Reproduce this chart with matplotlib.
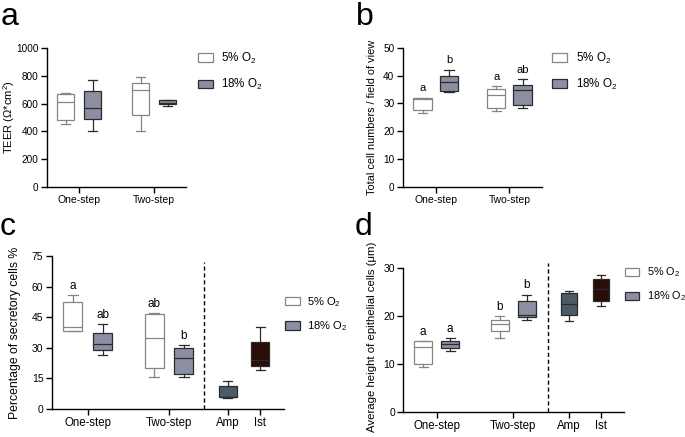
import matplotlib
matplotlib.use("Agg")
import matplotlib.pyplot as plt
from matplotlib.patches import Patch

plt.rcParams["font.family"] = ["Liberation Sans", "DejaVu Sans"]
plt.rcParams["mathtext.fontset"] = "custom"
plt.rcParams["mathtext.rm"] = "Liberation Sans"
plt.rcParams["mathtext.it"] = "Liberation Sans"

# box values: (min, q1, median, q3, max)
groups = ["One-step", "Two-step"]
tissues = ["Amp", "Ist"]
legend_labels = ["5% O$_2$", "18% O$_2$"]

teer_5 = [(456, 484, 609, 672, 677), (403, 516, 695, 748, 791)]
teer_18 = [(403, 489, 571, 688, 772), (580, 595, 604, 623, 628)]

cells_5 = [(26.4, 27.8, 31.6, 31.9, 32.1), (27.1, 28.5, 33.2, 35.3, 36.2)]
cells_18 = [(34.1, 34.3, 37.6, 39.7, 42.2), (28.5, 29.4, 35.0, 36.7, 38.8)]
cells_letters_5 = ["a", "a"]
cells_letters_18 = ["b", "ab"]

secr_5 = [(38.1, 38.2, 40.0, 52.3, 56.0), (15.7, 19.9, 35.0, 46.6, 46.9)]
secr_18 = [(26.3, 28.8, 31.7, 37.3, 41.5), (15.7, 17.3, 24.8, 29.9, 31.4)]
secr_tissue = [(5.4, 5.9, 6.0, 11.3, 13.9), (19.1, 21.2, 24.0, 32.7, 40.4)]
secr_letters_5 = ["a", "ab"]
secr_letters_18 = ["ab", "b"]

height_5 = [(9.3, 10.0, 13.4, 14.7, 14.7), (15.3, 16.8, 18.2, 19.2, 19.9)]
height_18 = [(12.6, 13.2, 14.2, 14.8, 15.3), (19.1, 19.7, 20.1, 23.1, 24.4)]
height_tissue = [(18.9, 20.1, 22.4, 24.7, 25.1), (22.0, 23.1, 25.5, 27.6, 28.5)]
height_letters_5 = ["a", "b"]
height_letters_18 = ["a", "b"]

WHITE_EDGE = "#858585"
GRAY_FILL = "#8b8fa1"
DARK_EDGE = "#2b2b2b"
AMP_FILL = "#4a5c67"
IST_FILL = "#2a0d07"


def stats(v):
    return {"whislo": v[0], "q1": v[1], "med": v[2], "q3": v[3], "whishi": v[4], "fliers": []}


def draw_boxes(ax, values, positions, fill, edge, width):
    ax.bxp([stats(v) for v in values], positions=positions, widths=width,
           capwidths=width * 0.5, patch_artist=True, showfliers=False,
           boxprops=dict(facecolor=fill, edgecolor=edge, linewidth=0.9),
           medianprops=dict(color=edge, linewidth=0.9),
           whiskerprops=dict(color=edge, linewidth=0.9),
           capprops=dict(color=edge, linewidth=0.9))


def add_letters(ax, values, positions, letters, size):
    for v, x, t in zip(values, positions, letters):
        ax.annotate(t, (x, v[4]), xytext=(0, 4.5), textcoords="offset points",
                    ha="center", va="baseline", fontsize=size)


def style(ax, ticks, labels, xlim, ylim, ystep, ylabel, label_x, xsize, ysize, lsize):
    ax.set_xlim(*xlim)
    ax.set_ylim(ylim)
    ax.set_yticks(range(0, ylim[1] + 1, ystep))
    ax.set_xticks(ticks)
    ax.set_xticklabels(labels)
    ax.set_ylabel(ylabel, fontsize=lsize)
    ax.yaxis.set_label_coords(label_x, 0.5)
    for s in ["top", "right"]:
        ax.spines[s].set_visible(False)
    for s in ["left", "bottom"]:
        ax.spines[s].set_linewidth(1.0)
    ax.tick_params(width=1.0, length=4, pad=2)
    ax.tick_params(axis="x", labelsize=xsize)
    ax.tick_params(axis="y", labelsize=ysize)


def add_legend(ax, x, y, size):
    handles = [Patch(facecolor="white", edgecolor=WHITE_EDGE, linewidth=0.9),
               Patch(facecolor=GRAY_FILL, edgecolor=DARK_EDGE, linewidth=0.9)]
    ax.legend(handles, legend_labels, loc="upper left", bbox_to_anchor=(x, y),
              frameon=False, fontsize=size, borderpad=0, borderaxespad=0,
              handlelength=1.3, handleheight=0.8, handletextpad=0.7, labelspacing=0.95)


fig = plt.figure(figsize=(6.85, 4.37), dpi=100)

# a: TEER
ax = fig.add_axes([0.0686, 0.572, 0.203, 0.318])
pos5 = [1 - 0.18, 2 - 0.18]
pos18 = [1 + 0.18, 2 + 0.18]
draw_boxes(ax, teer_5, pos5, "white", WHITE_EDGE, 0.23)
draw_boxes(ax, teer_18, pos18, GRAY_FILL, DARK_EDGE, 0.23)
style(ax, [1, 2], groups, (0.573, 2.427), (0, 1000), 200, "TEER (Ω*cm$^2$)",
      -0.218, 7.5, 7.2, 8)
add_legend(ax, 1.086, 0.98, 8.4)

# b: cell numbers
ax = fig.add_axes([0.588, 0.5725, 0.203, 0.318])
draw_boxes(ax, cells_5, pos5, "white", WHITE_EDGE, 0.25)
draw_boxes(ax, cells_18, pos18, GRAY_FILL, DARK_EDGE, 0.25)
add_letters(ax, cells_5, pos5, cells_letters_5, 8)
add_letters(ax, cells_18, pos18, cells_letters_18, 8)
style(ax, [1, 2], groups, (0.552, 2.44), (0, 50), 10, "Total cell numbers / field of view",
      -0.187, 7.5, 7.2, 7.8)
add_legend(ax, 1.075, 0.98, 8.4)

# c: secretory cells
ax = fig.add_axes([0.0755, 0.064, 0.339, 0.350])
pos5 = [0 - 0.183, 1 - 0.183]
pos18 = [0 + 0.183, 1 + 0.183]
tpos = [1.722, 2.123]
draw_boxes(ax, secr_5, pos5, "white", WHITE_EDGE, 0.234)
draw_boxes(ax, secr_18, pos18, GRAY_FILL, DARK_EDGE, 0.234)
draw_boxes(ax, secr_tissue[:1], tpos[:1], AMP_FILL, DARK_EDGE, 0.22)
draw_boxes(ax, secr_tissue[1:], tpos[1:], IST_FILL, DARK_EDGE, 0.22)
add_letters(ax, secr_5, pos5, secr_letters_5, 8.5)
add_letters(ax, secr_18, pos18, secr_letters_18, 8.5)
ax.axvline(1.434, ymin=0, ymax=0.96, color="black", linestyle=(0, (3, 2)), linewidth=1.0, clip_on=False)
style(ax, [0, 1] + tpos, groups + tissues, (-0.443, 2.414), (0, 75), 15,
      "Percentage of secretory cells %", -0.133, 8.3, 7.5, 8.8)
add_legend(ax, 1.005, 0.745, 8)

# d: epithelial height
ax = fig.add_axes([0.5888, 0.0579, 0.322, 0.3295])
pos5 = [0 - 0.176, 1 - 0.176]
pos18 = [0 + 0.176, 1 + 0.176]
tpos = [1.727, 2.141]
draw_boxes(ax, height_5, pos5, "white", WHITE_EDGE, 0.24)
draw_boxes(ax, height_18, pos18, GRAY_FILL, DARK_EDGE, 0.24)
draw_boxes(ax, height_tissue[:1], tpos[:1], AMP_FILL, DARK_EDGE, 0.21)
draw_boxes(ax, height_tissue[1:], tpos[1:], IST_FILL, DARK_EDGE, 0.21)
add_letters(ax, height_5, pos5, height_letters_5, 8.5)
add_letters(ax, height_18, pos18, height_letters_18, 8.5)
ax.axvline(1.449, ymin=0, ymax=1.035, color="black", linestyle=(0, (3, 2)), linewidth=1.0, clip_on=False)
style(ax, [0, 1] + tpos, groups + tissues, (-0.436, 2.445), (0, 30), 10,
      "Average height of epithelial cells (μm)", -0.12, 8.3, 7.5, 8.2)
ax.yaxis.set_label_coords(-0.12, 0.52)
add_legend(ax, 1.005, 1.015, 7.8)

# panel letters
for x, y, t in [(0.001, 0.943, "a"), (0.519, 0.943, "b"), (0.0, 0.462, "c"), (0.517, 0.462, "d")]:
    fig.text(x, y, t, fontsize=23, va="baseline", ha="left")

fig.savefig("out.png", dpi=100)
